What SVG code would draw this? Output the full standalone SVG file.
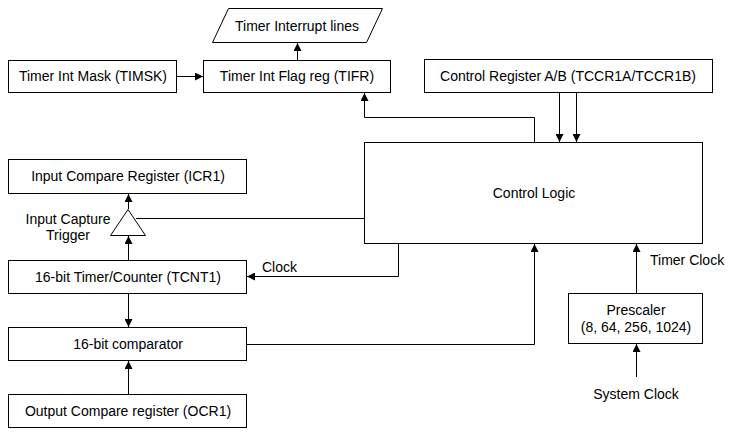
<svg xmlns="http://www.w3.org/2000/svg" width="737" height="436" viewBox="0 0 737 436">
<defs>
<marker id="ah" viewBox="0 0 8 8" refX="8" refY="4" markerWidth="8" markerHeight="8" markerUnits="userSpaceOnUse" orient="auto">
<path d="M0,0 L8,4 L0,8 Z" fill="#000"/>
</marker>
</defs>
<style>
.b{fill:#fff;stroke:#000;stroke-width:1}
.t{font-family:"Liberation Sans",Arial,sans-serif;font-size:14px;fill:#000}
.c{text-anchor:middle}
.l{fill:none;stroke:#000;stroke-width:1}
</style>
<rect width="737" height="436" fill="#fff"/>
<g id="interrupt-lines"><polygon class="b" points="228.5,8.5 382.5,8.5 366.5,42.5 212.5,42.5"/><text class="t c" x="297" y="31">Timer Interrupt lines</text></g>
<g id="timsk"><rect class="b" x="8.5" y="60.5" width="168" height="32"/><text class="t c" x="93" y="81">Timer Int Mask (TIMSK)</text></g>
<g id="tifr"><rect class="b" x="203.5" y="60.5" width="187" height="32"/><text class="t c" x="297" y="81">Timer Int Flag reg (TIFR)</text></g>
<g id="tccr"><rect class="b" x="424.5" y="59.5" width="288" height="33"/><text class="t c" x="568" y="81">Control Register A/B (TCCR1A/TCCR1B)</text></g>
<g id="control-logic"><rect class="b" x="364.5" y="142.5" width="338" height="101"/><text class="t c" x="534" y="198">Control Logic</text></g>
<g id="icr1"><rect class="b" x="8.5" y="159.5" width="238" height="34"/><text class="t c" x="128" y="181">Input Compare Register (ICR1)</text></g>
<g id="trigger"><polygon class="b" points="128,209.5 145.5,235.5 110.5,235.5"/><text class="t c" x="68" y="224">Input Capture</text><text class="t c" x="68" y="240">Trigger</text></g>
<g id="tcnt1"><rect class="b" x="8.5" y="260.5" width="238" height="33"/><text class="t c" x="128" y="282">16-bit Timer/Counter (TCNT1)</text></g>
<g id="comparator"><rect class="b" x="8.5" y="327.5" width="238" height="33"/><text class="t c" x="128" y="349">16-bit comparator</text></g>
<g id="ocr1"><rect class="b" x="8.5" y="394.5" width="238" height="33"/><text class="t c" x="128" y="416">Output Compare register (OCR1)</text></g>
<g id="prescaler"><rect class="b" x="568.5" y="293.5" width="134" height="50"/><text class="t c" x="636" y="315">Prescaler</text><text class="t c" x="636" y="332">(8, 64, 256, 1024)</text></g>
<g id="connectors">
<line class="l" x1="177" y1="76.5" x2="203" y2="76.5" marker-end="url(#ah)"/>
<line class="l" x1="297.5" y1="60" x2="297.5" y2="43" marker-end="url(#ah)"/>
<polyline class="l" points="534.5,142 534.5,117.5 364.5,117.5 364.5,93" marker-end="url(#ah)"/>
<line class="l" x1="559.5" y1="93" x2="559.5" y2="142" marker-end="url(#ah)"/>
<line class="l" x1="576.5" y1="93" x2="576.5" y2="142" marker-end="url(#ah)"/>
<line class="l" x1="364" y1="218.5" x2="136" y2="218.5"/>
<line class="l" x1="128.5" y1="209" x2="128.5" y2="194" marker-end="url(#ah)"/>
<line class="l" x1="128.5" y1="260" x2="128.5" y2="236" marker-end="url(#ah)"/>
<polyline class="l" points="398.5,244 398.5,276.5 247,276.5" marker-end="url(#ah)"/>
<text class="t" x="262" y="272">Clock</text>
<line class="l" x1="128.5" y1="294" x2="128.5" y2="327" marker-end="url(#ah)"/>
<line class="l" x1="128.5" y1="394" x2="128.5" y2="361" marker-end="url(#ah)"/>
<polyline class="l" points="247,344.5 534.5,344.5 534.5,244" marker-end="url(#ah)"/>
<line class="l" x1="636.5" y1="293" x2="636.5" y2="244" marker-end="url(#ah)"/>
<text class="t" x="650" y="265">Timer Clock</text>
<line class="l" x1="636.5" y1="377" x2="636.5" y2="344" marker-end="url(#ah)"/>
<text class="t c" x="636" y="399">System Clock</text>
</g>
</svg>
